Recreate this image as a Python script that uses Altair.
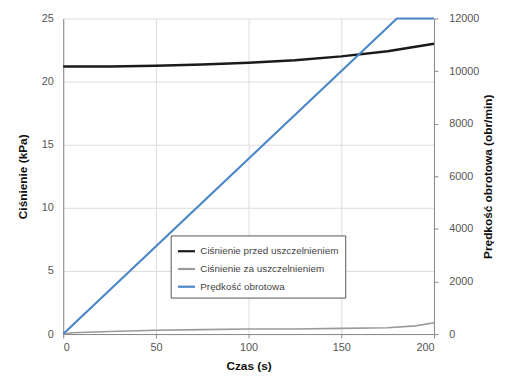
import altair as alt
import pandas as pd

# Ciśnienie przed uszczelnieniem (kPa)
t_przed = [0, 25, 50, 75, 100, 125, 150, 175, 200]
p_przed = [21.2, 21.2, 21.25, 21.35, 21.5, 21.7, 22.0, 22.4, 23.0]

# Ciśnienie za uszczelnieniem (kPa)
t_za = [0, 5, 25, 50, 75, 100, 125, 150, 175, 190, 200]
p_za = [0.0, 0.1, 0.2, 0.3, 0.35, 0.4, 0.4, 0.45, 0.5, 0.65, 0.9]

# Prędkość obrotowa (obr/min)
t_obr = [0, 180, 200]
v_obr = [0, 12000, 12000]

names = ["Ciśnienie przed uszczelnieniem", "Ciśnienie za uszczelnieniem", "Prędkość obrotowa"]
colors = ["#1a1a1a", "#9a9a9a", "#4a86c8"]

rows = []
for t, v in zip(t_przed, p_przed):
    rows.append({"t": t, "v": v, "series": names[0]})
for t, v in zip(t_za, p_za):
    rows.append({"t": t, "v": v, "series": names[1]})
for t, v in zip(t_obr, v_obr):
    rows.append({"t": t, "v": v, "series": names[2]})
df = pd.DataFrame(rows)

color = alt.Color("series:N", scale=alt.Scale(domain=names, range=colors),
                  legend=alt.Legend(title=None, orient="none", legendX=109, legendY=220,
                                    strokeColor="#555", padding=6, fillColor="white",
                                    symbolType="stroke", symbolSize=300, symbolStrokeWidth=2.2,
                                    labelFont="Liberation Sans", labelFontSize=10,
                                    labelColor="#444", rowPadding=3, labelLimit=300))

x = alt.X("t:Q", title="Czas (s)", scale=alt.Scale(domain=[0, 200], nice=False),
          axis=alt.Axis(values=[0, 50, 100, 150, 200], grid=True, gridColor="#dcdcdc",
                        labelColor="#555", labelFont="Liberation Sans", labelFontSize=11,
                        titleFont="Liberation Sans", titleFontSize=12, titleFontWeight="bold",
                        titleColor="#111", domainColor="#888", tickColor="#888", tickSize=4,
                        labelPadding=4, titlePadding=8))

black = alt.Chart(df).transform_filter(alt.datum.series == names[0]).mark_line(strokeWidth=2.5).encode(
    x=x,
    y=alt.Y("v:Q", title="Ciśnienie (kPa)", scale=alt.Scale(domain=[0, 25], nice=False),
            axis=alt.Axis(values=[0, 5, 10, 15, 20, 25], grid=True, gridColor="#dcdcdc",
                          labelColor="#555", labelFont="Liberation Sans", labelFontSize=11,
                          titleFont="Liberation Sans", titleFontSize=12, titleFontWeight="bold",
                          titleColor="#111", domainColor="#888", ticks=False,
                          labelPadding=10, titlePadding=12)),
    color=color,
)

gray = alt.Chart(df).transform_filter(alt.datum.series == names[1]).mark_line(strokeWidth=1.6).encode(
    x=x,
    y=alt.Y("v:Q"),
    color=color,
)

speed = alt.Chart(df).transform_filter(alt.datum.series == names[2]).mark_line(strokeWidth=2.2).encode(
    x=x,
    y=alt.Y("v:Q", title="Prędkość obrotowa (obr/min)", scale=alt.Scale(domain=[0, 12000], nice=False),
            axis=alt.Axis(orient="right", values=[0, 2000, 4000, 6000, 8000, 10000, 12000], grid=False,
                          format="d",
                          labelColor="#555", labelFont="Liberation Sans", labelFontSize=11,
                          titleFont="Liberation Sans", titleFontSize=12, titleFontWeight="bold",
                          titleColor="#111", domainColor="#888", tickColor="#888", tickSize=4,
                          labelPadding=11, titlePadding=16, titleAngle=270)),
    color=color,
)

chart = alt.layer(alt.layer(black, gray), speed).resolve_scale(y="independent").properties(
    width=376, height=320, autosize=alt.AutoSizeParams(type="none"),
    padding={"left": 56, "top": 8, "right": 70, "bottom": 50},
).configure_view(stroke=None)

chart.save("out.html", embed_options={"renderer": "svg", "actions": False})
